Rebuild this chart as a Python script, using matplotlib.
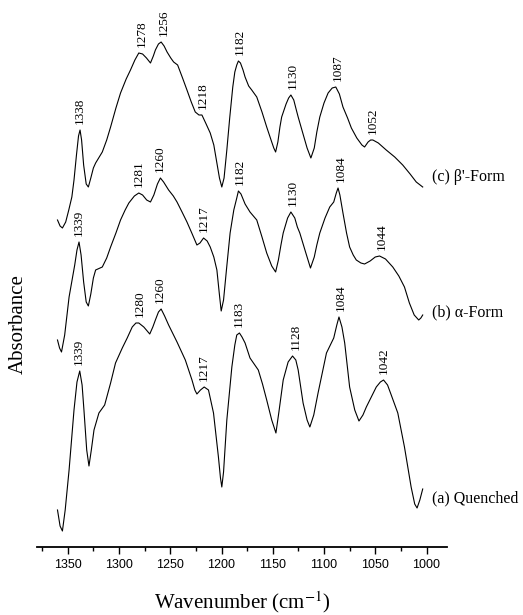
import matplotlib
matplotlib.use("Agg")
import matplotlib.pyplot as plt
import numpy as np

# 读图得到的数据：波数 (cm-1) 和吸光度（任意单位，已含曲线间的偏移）
wn_c = [1360.0, 1357.5, 1355.2, 1352.0, 1349.0, 1346.0, 1343.9, 1341.5, 1339.5, 1338.0,
        1336.5, 1334.5, 1332.0, 1329.9, 1327.5, 1325.0, 1322.8, 1316.3, 1312.0, 1308.2,
        1303.0, 1298.5, 1293.0, 1288.8, 1284.5, 1280.7, 1277.0, 1273.2, 1269.3, 1266.5,
        1264.5, 1261.5, 1258.9, 1256.0, 1253.1, 1249.5, 1246.7, 1242.8, 1238.0, 1233.7,
        1229.5, 1225.6, 1222.0, 1219.1, 1215.0, 1211.0, 1207.5, 1204.5, 1202.0, 1199.7,
        1197.5, 1194.8, 1192.0, 1189.0, 1187.0, 1185.1, 1183.5, 1181.5, 1179.0, 1177.0,
        1173.5, 1170.5, 1165.6, 1160.5, 1155.9, 1151.0, 1149.0, 1147.2, 1145.0, 1143.0,
        1141.3, 1137.0, 1134.5, 1132.3, 1129.5, 1127.0, 1125.2, 1121.0, 1116.5, 1112.8,
        1109.5, 1107.0, 1104.1, 1100.0, 1096.0, 1092.0, 1088.5, 1085.0, 1081.5, 1077.0,
        1073.3, 1068.0, 1063.0, 1060.4, 1057.0, 1054.5, 1052.3, 1047.0, 1039.3, 1031.0,
        1023.2, 1016.0, 1010.0, 1003.7]
abs_c = [3.40, 3.34, 3.32, 3.38, 3.50, 3.63, 3.80, 4.05, 4.24, 4.30,
         4.20, 3.95, 3.76, 3.73, 3.82, 3.92, 3.97, 4.08, 4.20, 4.33,
         4.52, 4.67, 4.81, 4.90, 5.00, 5.07, 5.06, 5.02, 4.97, 5.04,
         5.10, 5.16, 5.18, 5.14, 5.08, 5.02, 4.98, 4.95, 4.82, 4.70,
         4.58, 4.48, 4.45, 4.45, 4.36, 4.27, 4.15, 3.97, 3.82, 3.73,
         3.82, 4.10, 4.42, 4.73, 4.88, 4.95, 4.99, 4.97, 4.90, 4.83,
         4.74, 4.70, 4.63, 4.48, 4.33, 4.18, 4.12, 4.08, 4.18, 4.33,
         4.43, 4.56, 4.62, 4.65, 4.60, 4.50, 4.43, 4.28, 4.12, 4.02,
         4.12, 4.28, 4.43, 4.57, 4.67, 4.72, 4.73, 4.66, 4.53, 4.42,
         4.32, 4.22, 4.15, 4.13, 4.18, 4.20, 4.20, 4.17, 4.10, 4.03,
         3.95, 3.86, 3.78, 3.73]

wn_b = [1360.0, 1358.0, 1356.1, 1353.0, 1348.7, 1343.2, 1341.0, 1339.0, 1337.0, 1334.5,
        1332.0, 1329.9, 1327.5, 1325.0, 1322.8, 1316.3, 1312.0, 1308.2, 1303.0, 1298.5,
        1294.0, 1290.4, 1285.0, 1280.7, 1277.0, 1273.0, 1269.3, 1266.0, 1262.5, 1259.6,
        1256.5, 1251.6, 1247.0, 1243.4, 1238.5, 1233.7, 1229.0, 1224.0, 1221.0, 1217.5,
        1214.0, 1211.0, 1207.5, 1204.5, 1202.0, 1200.3, 1198.0, 1195.0, 1191.6, 1188.0,
        1185.1, 1183.5, 1181.0, 1177.0, 1172.2, 1165.6, 1160.5, 1155.9, 1151.0, 1147.2,
        1144.5, 1142.0, 1139.8, 1135.5, 1132.3, 1128.5, 1126.0, 1123.6, 1118.0, 1113.2,
        1109.5, 1107.0, 1104.1, 1099.0, 1094.4, 1090.5, 1088.0, 1086.3, 1084.5, 1081.5,
        1078.0, 1075.0, 1071.5, 1068.5, 1064.0, 1060.4, 1055.0, 1050.0, 1045.8, 1040.0,
        1032.9, 1027.0, 1021.5, 1016.7, 1012.0, 1007.6, 1005.5, 1003.7]
abs_b = [2.20, 2.12, 2.08, 2.25, 2.63, 2.95, 3.10, 3.18, 3.05, 2.78,
         2.58, 2.54, 2.66, 2.82, 2.90, 2.93, 3.02, 3.13, 3.27, 3.40,
         3.50, 3.57, 3.64, 3.67, 3.65, 3.60, 3.58, 3.65, 3.76, 3.82,
         3.78, 3.70, 3.64, 3.58, 3.48, 3.38, 3.27, 3.15, 3.17, 3.22,
         3.19, 3.13, 3.03, 2.90, 2.65, 2.49, 2.60, 2.92, 3.27, 3.50,
         3.62, 3.69, 3.66, 3.56, 3.48, 3.40, 3.23, 3.07, 2.94, 2.88,
         3.00, 3.15, 3.27, 3.42, 3.48, 3.42, 3.33, 3.27, 3.08, 2.92,
         3.03, 3.15, 3.27, 3.42, 3.53, 3.58, 3.67, 3.72, 3.65, 3.47,
         3.27, 3.13, 3.05, 3.00, 2.97, 2.96, 2.99, 3.03, 3.04, 3.01,
         2.93, 2.84, 2.73, 2.57, 2.45, 2.40, 2.42, 2.45]

wn_a = [1360.0, 1357.5, 1355.2, 1352.5, 1348.7, 1343.9, 1341.0, 1338.3, 1336.0, 1334.2,
        1331.5, 1329.3, 1327.0, 1324.4, 1319.6, 1314.0, 1308.2, 1303.4, 1296.8, 1292.0,
        1287.1, 1283.5, 1280.7, 1275.8, 1270.0, 1267.0, 1264.5, 1261.5, 1258.9, 1255.5,
        1251.6, 1243.4, 1235.3, 1228.8, 1226.0, 1224.0, 1220.5, 1216.9, 1212.7, 1207.8,
        1203.0, 1201.0, 1199.7, 1198.0, 1194.8, 1189.9, 1187.0, 1185.1, 1182.5, 1180.0,
        1177.0, 1172.2, 1164.1, 1160.0, 1155.9, 1151.0, 1146.9, 1144.0, 1139.8, 1135.0,
        1130.7, 1127.5, 1125.2, 1120.4, 1116.5, 1113.8, 1110.0, 1105.8, 1097.6, 1090.5,
        1087.5, 1085.4, 1082.5, 1079.8, 1075.0, 1070.0, 1065.9, 1062.0, 1058.7, 1049.0,
        1045.0, 1041.9, 1038.0, 1034.4, 1028.0, 1021.5, 1015.0, 1011.5, 1009.2, 1006.5,
        1003.7]
abs_a = [0.50, 0.34, 0.29, 0.50, 0.90, 1.50, 1.78, 1.89, 1.75, 1.50,
         1.10, 0.94, 1.10, 1.30, 1.47, 1.55, 1.77, 1.97, 2.12, 2.22,
         2.33, 2.37, 2.37, 2.33, 2.26, 2.33, 2.40, 2.48, 2.51, 2.44,
         2.35, 2.18, 2.00, 1.80, 1.70, 1.66, 1.70, 1.73, 1.70, 1.47,
         1.03, 0.82, 0.73, 0.88, 1.40, 1.93, 2.15, 2.25, 2.27, 2.23,
         2.17, 2.02, 1.90, 1.76, 1.60, 1.40, 1.27, 1.48, 1.80, 1.98,
         2.04, 2.00, 1.90, 1.57, 1.40, 1.33, 1.45, 1.67, 2.07, 2.22,
         2.35, 2.43, 2.33, 2.17, 1.73, 1.50, 1.39, 1.45, 1.53, 1.73,
         1.78, 1.80, 1.75, 1.65, 1.47, 1.13, 0.73, 0.56, 0.52, 0.60,
         0.71]

# 峰位标注
peaks_c = [1338, 1278, 1256, 1218, 1182, 1130, 1087, 1052]
peaks_b = [1339, 1281, 1260, 1217, 1182, 1130, 1084, 1044]
peaks_a = [1339, 1280, 1260, 1217, 1183, 1128, 1084, 1042]

names = ["(c) β'-Form", "(b) α-Form", "(a) Quenched"]
name_y = [3.83, 2.48, 0.62]

serif = ["Liberation Serif", "DejaVu Serif"]
plt.rcParams['mathtext.fontset'] = 'stix'

fig = plt.figure(figsize=(5.23, 6.15), dpi=100)
ax = fig.add_axes([37/523, 68/615, 410/523, 547/615])

curves = [(wn_c, abs_c, peaks_c), (wn_b, abs_b, peaks_b), (wn_a, abs_a, peaks_a)]
for (wn, ab, pk), name, ny in zip(curves, names, name_y):
    wn = np.array(wn)
    ab = np.array(ab)
    ax.plot(wn, ab, color='black', lw=0.8)
    for p in pk:
        m = np.abs(wn - p) <= 4
        top = ab[m].max()
        ax.annotate(str(p), xy=(p, top), xytext=(0, 4), textcoords='offset points',
                    rotation=90, ha='center', va='bottom', fontsize=9.5, family=serif)
    ax.text(995, ny, name, ha='left', va='center', fontsize=11.5, family=serif)

ax.set_xlim(1380, 980)
ax.set_ylim(0.13, 5.6)
for s in ['left', 'right', 'top']:
    ax.spines[s].set_visible(False)
ax.spines['bottom'].set_linewidth(1.3)
ax.set_yticks([])
ax.set_xticks(np.arange(1000, 1351, 50))
ax.set_xticks(np.arange(1025, 1376, 50), minor=True)
ax.tick_params(axis='x', which='major', length=5, width=1, pad=4, labelsize=9)
ax.tick_params(axis='x', which='minor', length=3, width=1)
for t in ax.get_xticklabels():
    t.set_family(["Liberation Sans", "DejaVu Sans"])

fig.text(242/523, 1 - 602/615, 'Wavenumber (cm$^{-1}$)', ha='center', va='center',
         fontsize=15, family=serif)
fig.text(18/523, 1 - 324/615, 'Absorbance', ha='center', va='center', rotation=90,
         fontsize=15, family=serif)

fig.savefig('out.png', dpi=100)
